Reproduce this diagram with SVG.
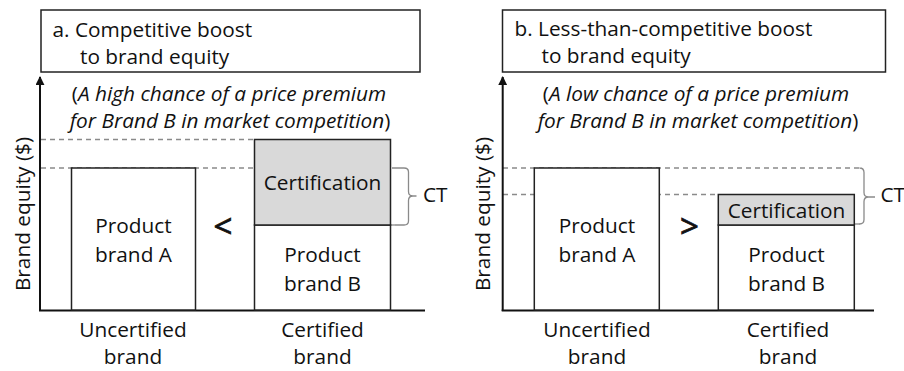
<svg xmlns="http://www.w3.org/2000/svg" width="904" height="371" viewBox="0 0 904 371">
  <defs>
    <marker id="axisHead" viewBox="0 0 10 10" refX="9" refY="5" markerWidth="4.5" markerHeight="4.5" orient="auto-start-reverse">
      <path d="M0,0 L10,5 L0,10 Z" fill="#111"/>
    </marker>
    <style>
      text { font-family: "Open Sans", "Liberation Sans", sans-serif; font-size: 20.8px; fill: #111; }
      .mid { text-anchor: middle; }
      .it { font-style: italic; }
      .frame { fill: #fff; stroke: #222; stroke-width: 1.5; }
      .box { fill: #fff; stroke: #222; stroke-width: 1.5; }
      .cert { fill: #d9d9d9; stroke: #222; stroke-width: 1.5; }
      .axis { fill: none; stroke: #111; stroke-width: 2; }
      .guide { fill: none; stroke: #8a8a8a; stroke-width: 1.3; stroke-dasharray: 5 4; }
      .brace { fill: none; stroke: #8a8a8a; stroke-width: 1.3; }
      .sym { font-size: 33px; stroke: #111; stroke-width: 0.8; }
    </style>
  </defs>

  <!-- Panel a -->
  <g id="panel-a">
    <g id="title-a">
      <rect class="frame" x="41" y="10" width="379" height="62"/>
      <text x="52.5" y="37">a. Competitive boost</text>
      <text x="80" y="64">to brand equity</text>
    </g>
    <g id="note-a">
      <text class="mid" x="229" y="101">(<tspan class="it">A high chance of a price premium</tspan></text>
      <text class="mid" x="230" y="128"><tspan class="it">for Brand B in market competition</tspan>)</text>
    </g>
    <g id="guides-a">
      <line class="guide" x1="41" y1="139.5" x2="254" y2="139.5"/>
      <line class="guide" x1="41" y1="168" x2="395" y2="168"/>
      <line class="guide" x1="390" y1="225" x2="395" y2="225"/>
    </g>
    <g id="axes-a">
      <line class="axis" x1="40" y1="311" x2="40" y2="77" marker-end="url(#axisHead)"/>
      <line class="axis" x1="39" y1="310.5" x2="425" y2="310.5"/>
      <text class="mid" transform="translate(29.5,214) rotate(-90)">Brand equity ($)</text>
    </g>
    <g id="brand-a-uncertified">
      <rect class="box" x="71.5" y="168" width="124" height="142"/>
      <text class="mid" x="133.5" y="233">Product</text>
      <text class="mid" x="133.5" y="262">brand A</text>
      <text class="mid" x="133" y="337">Uncertified</text>
      <text class="mid" x="133" y="364">brand</text>
    </g>
    <text class="mid sym" x="223" y="238">&lt;</text>
    <g id="brand-b-certified-a">
      <rect class="box" x="254.5" y="225" width="136" height="85"/>
      <rect class="cert" x="254.5" y="139.5" width="136" height="85.5"/>
      <text class="mid" x="322.5" y="190">Certification</text>
      <text class="mid" x="322.5" y="262">Product</text>
      <text class="mid" x="322.5" y="291">brand B</text>
      <text class="mid" x="322.5" y="337">Certified</text>
      <text class="mid" x="322.5" y="364">brand</text>
    </g>
    <g id="ct-a">
      <path class="brace" d="M395 168 H404 Q408.5 168 408.5 172 V191.5 Q408.5 196 413 196 H416.5 M413 196 Q408.5 196 408.5 200.5 V221 Q408.5 225 404 225 H395"/>
      <text x="423" y="202">CT</text>
    </g>
  </g>

  <!-- Panel b -->
  <g id="panel-b">
    <g id="title-b">
      <rect class="frame" x="502.5" y="10" width="383" height="62"/>
      <text x="514.5" y="36">b. Less-than-competitive boost</text>
      <text x="541.5" y="63">to brand equity</text>
    </g>
    <g id="note-b">
      <text class="mid" x="696" y="101">(<tspan class="it">A low chance of a price premium</tspan></text>
      <text class="mid" x="698" y="128"><tspan class="it">for Brand B in market competition</tspan>)</text>
    </g>
    <g id="guides-b">
      <line class="guide" x1="503" y1="168" x2="860" y2="168"/>
      <line class="guide" x1="503" y1="194.5" x2="718" y2="194.5"/>
      <line class="guide" x1="855" y1="224" x2="860" y2="224"/>
    </g>
    <g id="axes-b">
      <line class="axis" x1="502.7" y1="311" x2="502.7" y2="77" marker-end="url(#axisHead)"/>
      <line class="axis" x1="501.7" y1="310.5" x2="874" y2="310.5"/>
      <text class="mid" transform="translate(490,214) rotate(-90)">Brand equity ($)</text>
    </g>
    <g id="brand-a-uncertified-b">
      <rect class="box" x="534.3" y="168" width="125" height="142"/>
      <text class="mid" x="597" y="233">Product</text>
      <text class="mid" x="597" y="262">brand A</text>
      <text class="mid" x="597" y="337">Uncertified</text>
      <text class="mid" x="597" y="364">brand</text>
    </g>
    <text class="mid sym" x="689.5" y="238">&gt;</text>
    <g id="brand-b-certified-b">
      <rect class="box" x="718.3" y="225" width="136" height="85"/>
      <rect class="cert" x="718.3" y="194.5" width="136" height="30.5"/>
      <text class="mid" x="786.5" y="217.5">Certification</text>
      <text class="mid" x="786.5" y="262">Product</text>
      <text class="mid" x="786.5" y="291">brand B</text>
      <text class="mid" x="788" y="337">Certified</text>
      <text class="mid" x="788" y="364">brand</text>
    </g>
    <g id="ct-b">
      <path class="brace" d="M860 168 H859.5 Q864 168 864 172.5 V192.5 Q864 197 868.5 197 H875 M868.5 197 Q864 197 864 201.5 V219.5 Q864 224 859.5 224 H860"/>
      <text x="880.5" y="202">CT</text>
    </g>
  </g>
</svg>
